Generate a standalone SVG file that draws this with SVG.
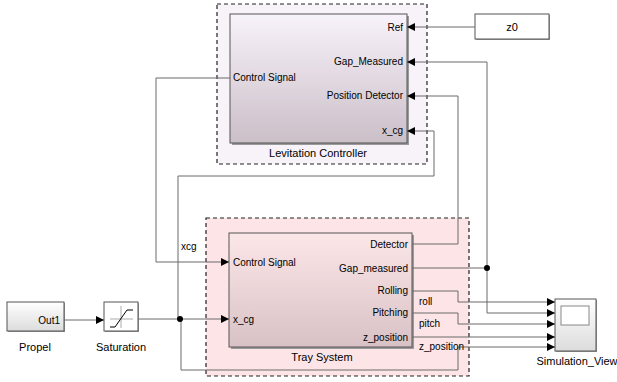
<svg xmlns="http://www.w3.org/2000/svg" width="617" height="382" viewBox="0 0 617 382">
<defs>
<linearGradient id="gLev" x1="0" y1="0" x2="0" y2="1"><stop offset="0" stop-color="#f8f2fa"/><stop offset="1" stop-color="#cbbfc8"/></linearGradient>
<linearGradient id="gTray" x1="0" y1="0" x2="0" y2="1"><stop offset="0" stop-color="#fbe6e8"/><stop offset="1" stop-color="#d9c2c5"/></linearGradient>
<linearGradient id="gGrey" x1="0" y1="0" x2="0" y2="1"><stop offset="0" stop-color="#ffffff"/><stop offset="1" stop-color="#dcdcdc"/></linearGradient>
<marker id="arr" markerUnits="userSpaceOnUse" markerWidth="9" markerHeight="9" refX="8" refY="4" orient="auto"><path d="M0,0 L8,4 L0,8 z" fill="#000"/></marker>
</defs>
<style>
text{font-family:"Liberation Sans",Arial,sans-serif;fill:#000}
.p{font-size:10px}
.l{font-size:11px}
.e{text-anchor:end}
.m{text-anchor:middle}
.blk{stroke:#555;stroke-width:1}
.sh{fill:#9a9a9a}
.dash{stroke:#222;stroke-width:1.2;stroke-dasharray:4,3}
.c{fill:none;stroke:#6a6a6a;stroke-width:1}
.a{marker-end:url(#arr)}
</style>
<rect width="617" height="382" fill="#fff"/>

<g id="levitation_controller">
<rect x="217" y="4" width="210" height="160" fill="#f8f2f9" class="dash"/>
<rect x="232" y="16" width="177" height="129" class="sh"/>
<rect x="230" y="14" width="177" height="129" fill="url(#gLev)" class="blk"/>
<text x="403" y="31" class="p e">Ref</text>
<text x="403" y="65" class="p e">Gap_Measured</text>
<text x="233" y="81" class="p">Control Signal</text>
<text x="403" y="99" class="p e">Position Detector</text>
<text x="403" y="134" class="p e">x_cg</text>
<text x="318" y="157" class="l m">Levitation Controller</text>
</g>

<g id="tray_system">
<rect x="206" y="218" width="263" height="158" fill="#fde4e6" class="dash"/>
<rect x="231" y="235" width="183" height="114" class="sh"/>
<rect x="229" y="233" width="183" height="114" fill="url(#gTray)" class="blk"/>
<text x="408" y="248" class="p e">Detector</text>
<text x="233" y="266" class="p">Control Signal</text>
<text x="408" y="272" class="p e">Gap_measured</text>
<text x="408" y="294" class="p e">Rolling</text>
<text x="408" y="316" class="p e">Pitching</text>
<text x="233" y="323" class="p">x_cg</text>
<text x="408" y="341" class="p e">z_position</text>
<text x="322" y="361" class="l m">Tray System</text>
</g>

<g id="z0">
<rect x="476" y="15" width="74" height="25" class="sh"/>
<rect x="475" y="14" width="74" height="25" fill="#fff" class="blk"/>
<text x="512" y="31" class="l m">z0</text>
</g>

<g id="propel">
<rect x="8" y="303" width="57" height="29" class="sh"/>
<rect x="7" y="302" width="57" height="29" fill="url(#gGrey)" class="blk"/>
<text x="60" y="324" class="p e">Out1</text>
<text x="35" y="351" class="l m">Propel</text>
</g>

<g id="saturation">
<rect x="105" y="303" width="34" height="29" class="sh"/>
<rect x="104" y="302" width="34" height="29" fill="#fff" class="blk"/>
<path d="M110,319 H133 M121,306 V328" stroke="#aaa" stroke-width="1" fill="none"/>
<path d="M110,327 H115 L127,310 H133" stroke="#000" stroke-width="1" fill="none"/>
<text x="121" y="351" class="l m">Saturation</text>
</g>

<g id="simulation_view">
<rect x="556" y="300" width="41" height="52" class="sh"/>
<rect x="555" y="299" width="41" height="52" fill="url(#gGrey)" class="blk"/>
<rect x="561" y="306" width="28" height="19" fill="#fff" stroke="#888" stroke-width="1"/>
<text x="577" y="365" class="l m">Simulation_View</text>
</g>

<g id="connectors">
<path class="c a" d="M475,27 H407"/>
<path class="c" d="M412,268 H487"/>
<path class="c a" d="M487,268 V62 H407"/>
<path class="c a" d="M487,268 V313 H555"/>
<path class="c a" d="M412,244 H458 V96 H407"/>
<path class="c a" d="M178,319 V176 H434 V131 H407"/>
<path class="c a" d="M230,78 H156 V262 H229"/>
<path class="c a" d="M64,320 H104"/>
<path class="c a" d="M138,319 H229"/>
<path class="c a" d="M181,319 V370 H458 V347 H555"/>
<path class="c a" d="M412,291 H458 V302 H555"/>
<path class="c a" d="M412,313 H458 V324 H555"/>
<path class="c a" d="M412,337 H555"/>
<circle cx="487" cy="268" r="3" fill="#000"/>
<circle cx="180" cy="319" r="3" fill="#000"/>
<text x="181" y="250" class="p">xcg</text>
<text x="419" y="305" class="p">roll</text>
<text x="419" y="327" class="p">pitch</text>
<text x="419" y="350" class="p">z_position</text>
</g>
</svg>
